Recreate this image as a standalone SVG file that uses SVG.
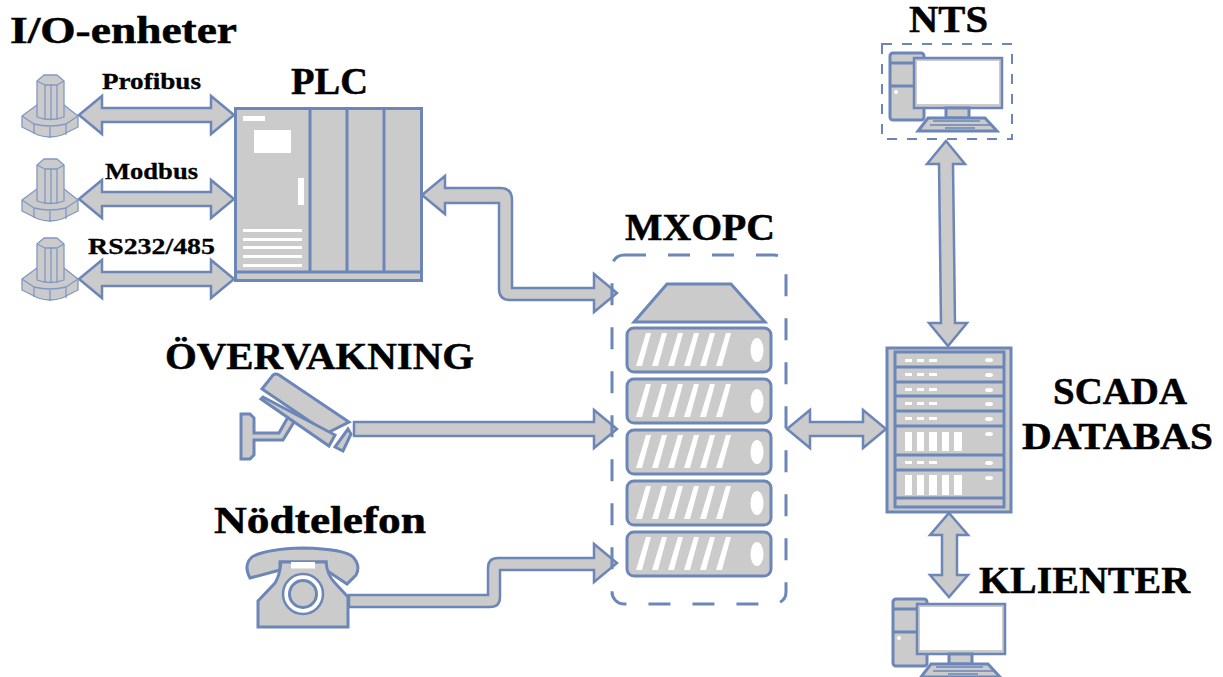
<svg xmlns="http://www.w3.org/2000/svg" width="1223" height="677" viewBox="0 0 1223 677">
<style>
.s{fill:#cbcbcb;stroke:#6c86b8;stroke-width:3;stroke-linejoin:miter}
.t{fill:#cbcbcb;stroke:#8098c5;stroke-width:1.3;stroke-linejoin:round}
.w{fill:#fff;stroke:none}
.d{fill:none;stroke:#6c86b8;stroke-width:3;stroke-dasharray:22 22}
.a{fill:#cbcbcb;stroke:#6c86b8;stroke-width:2.5;stroke-linejoin:miter}
text{font-family:"Liberation Serif",Georgia,serif;font-weight:bold;fill:#000;stroke:#000;stroke-width:.5px;font-size:38px}
.m{font-size:24px;stroke-width:.3px}
</style>
<defs>
<g id="io">
<path class="t" d="M22 116L37 105H64L78 116V127L62 135Q50 139 38 135L22 127Z"/>
<path class="t" d="M22 116L34 124Q50 128 66 124L78 116M34 124V134M66 124V135M50 127V138"/>
<path class="t" d="M37 81L44 75H57L64 81V117Q50 122 37 117Z"/>
<path class="t" d="M37 81L45 85H57L64 81M45 85V120M51 85V120M57 85V120"/>
</g>
<g id="srv">
<rect class="s" x="627" y="0" width="144" height="44" rx="7"/>
<path class="w" d="M646 5H651L642 38H636ZM662 5H667L658 38H652ZM678 5H683L674 38H668ZM694 5H699L690 38H684ZM710 5H715L706 38H700ZM726 5H731L722 38H716Z"/>
<ellipse class="w" cx="757" cy="22" rx="6.500" ry="12"/>
</g>
<g id="pc">
<rect class="s" x="890" y="53" width="34" height="67" rx="3" stroke-width="2.500"/>
<path class="s" d="M890 63H914M890 86H914" stroke-width="2.500"/>
<circle class="w" cx="896" cy="92" r="2"/>
<rect x="914" y="58" width="88" height="50" fill="#cbcbcb" stroke="#6c86b8" stroke-width="2.500"/>
<rect class="w" x="917" y="61" width="82" height="43"/>
<rect class="s" x="946" y="108" width="23" height="10" stroke-width="2.500"/>
<path class="s" d="M928 118H985L997 131H918Z" stroke-width="2"/>
<path d="M933 121H980M930 125H990M945 128H975" stroke="#6c86b8" stroke-width="1.500" fill="none"/>
</g>
</defs>

<g id="connectors">
<path class="a" d="M79 115L102 96V108H211V96L234 115L211 134V122H102V134Z"/>
<path class="a" d="M79 199L102 180V192H211V180L234 199L211 218V206H102V218Z"/>
<path class="a" d="M79 279L102 260V272H211V260L234 279L211 298V286H102V298Z"/>
<path class="a" d="M422 195L445 176V188H500Q512 188 512 200V288H594V274L617 293L594 312V300H510Q499 300 499 289V203H445V214Z"/>
<path class="a" d="M354 422H594V410L617 429L594 448V436H354Z"/>
<path class="a" d="M349 595H488V568Q488 558 498 558H594V544L617 563L594 582V570H500V597Q500 607 490 607H349Z"/>
<path class="a" d="M787 429L810 410V422H863V410L886 429L863 448V436H810V448Z"/>
<path class="a" d="M946 141L965 164H953L955 323H967L948 346L929 323H941L939 164H927Z"/>
<path class="a" d="M949 513L968 535H957V575H968L949 597L930 575H942V535H930Z"/>
</g>

<g id="io-1"><use href="#io"/></g>
<g id="io-2"><use href="#io" y="84"/></g>
<g id="io-3"><use href="#io" y="163"/></g>
<text x="10" y="43" textLength="227" lengthAdjust="spacingAndGlyphs">I/O-enheter</text>
<text class="m" x="102" y="89" textLength="99" lengthAdjust="spacingAndGlyphs">Profibus</text>
<text class="m" x="105" y="179" textLength="93" lengthAdjust="spacingAndGlyphs">Modbus</text>
<text class="m" x="88" y="254" textLength="127" lengthAdjust="spacingAndGlyphs">RS232/485</text>

<g id="plc">
<rect class="s" x="235.500" y="108.500" width="186" height="172"/>
<path class="s" d="M310 109V272M347 109V272M384 109V272M236 272H421" fill="none"/>
<rect class="w" x="243" y="116" width="22" height="5"/>
<rect class="w" x="254" y="130" width="37" height="23"/>
<rect class="w" x="298" y="178" width="6" height="27"/>
<rect class="w" x="243" y="229" width="59" height="3"/>
<rect class="w" x="243" y="238" width="59" height="3"/>
<rect class="w" x="243" y="246" width="59" height="3"/>
<rect class="w" x="243" y="255" width="59" height="3"/>
<rect class="w" x="243" y="264" width="59" height="3"/>
<text x="291" y="94" textLength="77" lengthAdjust="spacingAndGlyphs">PLC</text>
</g>

<g id="mxopc">
<rect class="d" x="612" y="255" width="174" height="349" rx="12"/>
<path class="s" d="M667 284H731L765 322H634Z"/>
<use href="#srv" y="328"/>
<use href="#srv" y="379"/>
<use href="#srv" y="430"/>
<use href="#srv" y="481"/>
<use href="#srv" y="532"/>
<text x="625" y="240" textLength="150" lengthAdjust="spacingAndGlyphs">MXOPC</text>
</g>

<g id="overvakning">
<path class="s" d="M241 414H250L254 418V433H279L288 417L294 422L283 440H254V455L250 459H241Z" stroke-width="2"/>
<path class="s" d="M262 389L273 375Q276 373 279 375L349 422L327 433Z" stroke-width="2"/>
<path class="s" d="M261 399L263 397L335 435L329 446Z" stroke-width="2"/>
<path class="s" d="M348 429L351 434L343 451L335 447Z" stroke-width="2"/>
<text x="165" y="369" textLength="309" lengthAdjust="spacingAndGlyphs">ÖVERVAKNING</text>
</g>

<g id="nodtelefon">
<path class="s" d="M250 578Q243 565 252 557Q265 549 303 548Q345 549 353 557Q361 566 356 575L347 584L326 570V562H280V570Z" stroke-width="2"/>
<path class="s" d="M258 601L275 583Q280 575 281 562H326Q327 575 335 583L348 597V627H258Z" stroke-width="2"/>
<circle cx="303" cy="594" r="20" fill="#fff" stroke="#6c86b8" stroke-width="2.500"/>
<circle class="s" cx="303" cy="594" r="13.500" stroke-width="2.500"/>
<rect class="w" x="291" y="562" width="24" height="6.500"/>
<text x="214" y="533" textLength="212" lengthAdjust="spacingAndGlyphs">Nödtelefon</text>
</g>

<g id="scada">
<rect class="s" x="887" y="348" width="124" height="164"/>
<rect class="s" x="895" y="352" width="109" height="155"/>
<path class="s" d="M895 367H1004M895 382H1004M895 396H1004M895 411H1004M895 426H1004M895 455H1004M895 470H1004M895 498H1004" fill="none"/>
<g class="w">
<rect x="905" y="359" width="7" height="3"/><rect x="917" y="359" width="7" height="3"/><rect x="929" y="359" width="8" height="3"/>
<rect x="905" y="373" width="7" height="3"/><rect x="917" y="373" width="7" height="3"/><rect x="929" y="373" width="8" height="3"/>
<rect x="905" y="388" width="7" height="3"/><rect x="917" y="388" width="7" height="3"/><rect x="929" y="388" width="8" height="3"/>
<rect x="905" y="402" width="7" height="3"/><rect x="917" y="402" width="7" height="3"/><rect x="929" y="402" width="8" height="3"/>
<rect x="905" y="417" width="7" height="3"/><rect x="917" y="417" width="7" height="3"/><rect x="929" y="417" width="8" height="3"/>
<rect x="905" y="461" width="7" height="3"/><rect x="917" y="461" width="7" height="3"/><rect x="929" y="461" width="8" height="3"/>
<rect x="905" y="432" width="7" height="19"/><rect x="917" y="432" width="7" height="19"/><rect x="929" y="432" width="8" height="19"/><rect x="942" y="432" width="7" height="19"/><rect x="954" y="432" width="8" height="19"/>
<rect x="905" y="475" width="7" height="20"/><rect x="917" y="475" width="7" height="20"/><rect x="929" y="475" width="8" height="20"/><rect x="942" y="475" width="7" height="20"/><rect x="954" y="475" width="8" height="20"/>
<ellipse cx="989" cy="360" rx="4" ry="2"/><ellipse cx="989" cy="375" rx="4" ry="2"/><ellipse cx="989" cy="390" rx="4" ry="2"/><ellipse cx="989" cy="404" rx="4" ry="2"/><ellipse cx="989" cy="419" rx="4" ry="2"/><ellipse cx="989" cy="434" rx="4" ry="2"/><ellipse cx="989" cy="463" rx="4" ry="2"/><ellipse cx="989" cy="478" rx="4" ry="2"/>
</g>
<text x="1053" y="404" textLength="134" lengthAdjust="spacingAndGlyphs">SCADA</text>
<text x="1022" y="449" textLength="191" lengthAdjust="spacingAndGlyphs">DATABAS</text>
</g>

<g id="nts">
<rect x="882" y="44" width="130" height="95" fill="none" stroke="#6c86b8" stroke-width="2" stroke-dasharray="10 10"/>
<use href="#pc"/>
<text x="909" y="32" textLength="79" lengthAdjust="spacingAndGlyphs">NTS</text>
</g>

<g id="klienter">
<use href="#pc" x="3" y="546"/>
<text x="979" y="593" textLength="211" lengthAdjust="spacingAndGlyphs">KLIENTER</text>
</g>
</svg>
